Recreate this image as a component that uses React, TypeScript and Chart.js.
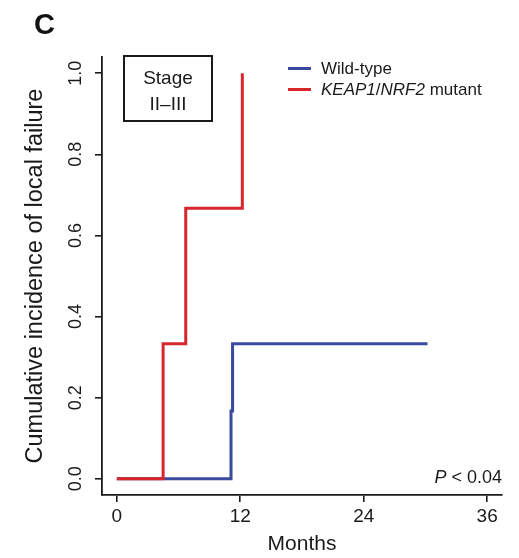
import React, { useEffect, useRef } from "react";
import { Chart, registerables } from "chart.js";

Chart.register(...registerables);

// ---- data ----
const seriesLabels = ["Wild-type", "KEAP1/NRF2 mutant"];
const wildTypeMonths = [0, 11.1, 11.25, 30.2];
const wildTypeIncidence = [0, 0.167, 0.333, 0.333];
const mutantMonths = [0, 4.5, 6.7, 12.2];
const mutantIncidence = [0, 0.333, 0.667, 1.0];
const xTickValues = [0, 12, 24, 36];
const yTickValues = [0, 0.2, 0.4, 0.6, 0.8, 1.0];
const xTitle = "Months";
const yTitle = "Cumulative incidence of local failure";
const stageLabel = ["Stage", "II–III"];
const pValueText = "< 0.04";

const FONT = "'Liberation Sans', Arial, Helvetica, sans-serif";
const INK = "#1a1a1a";
const BLUE = "#3a4a9f";
const RED = "#d8262d";
const W = 519;
const H = 558;

function pts(xs: number[], ys: number[]) {
  return xs.map((x, i) => ({ x, y: ys[i] }));
}

export default function App() {
  const ref = useRef<HTMLCanvasElement | null>(null);

  useEffect(() => {
    const canvas = ref.current;
    if (!canvas) return;
    const chart = new Chart(canvas, {
      type: "line",
      data: {
        datasets: [
          {
            label: seriesLabels[1],
            data: pts(mutantMonths, mutantIncidence),
            borderColor: RED,
            borderWidth: 3,
            stepped: "before",
            pointRadius: 0,
            fill: false,
            order: 0,
          },
          {
            label: seriesLabels[0],
            data: pts(wildTypeMonths, wildTypeIncidence),
            borderColor: BLUE,
            borderWidth: 3,
            stepped: "before",
            pointRadius: 0,
            fill: false,
            order: 1,
          },
        ],
      },
      options: {
        animation: false,
        responsive: false,
        maintainAspectRatio: false,
        layout: { padding: { top: 57, right: 17, bottom: 0, left: 17 } },
        plugins: {
          legend: { display: false },
          tooltip: { enabled: false },
        },
        scales: {
          x: {
            type: "linear",
            min: -1.44,
            max: 37.44,
            afterBuildTicks: (s: any) => {
              s.ticks = xTickValues.map((v) => ({ value: v }));
            },
            afterFit: (s: any) => {
              s.height = 63;
            },
            grid: {
              drawOnChartArea: false,
              drawTicks: true,
              tickLength: 7,
              color: INK,
              lineWidth: 1.6,
            },
            border: { display: true, color: INK, width: 1.8 },
            ticks: {
              color: INK,
              font: { family: FONT, size: 19 },
              padding: 3,
              maxRotation: 0,
              autoSkip: false,
              callback: (v: any) => String(v),
            },
            title: {
              display: true,
              text: xTitle,
              color: INK,
              font: { family: FONT, size: 21 },
              padding: { top: 0, bottom: 1 },
            },
          },
          y: {
            type: "linear",
            min: -0.04,
            max: 1.04,
            afterBuildTicks: (s: any) => {
              s.ticks = yTickValues.map((v) => ({ value: v }));
            },
            afterFit: (s: any) => {
              s.width = 85;
            },
            grid: {
              drawOnChartArea: false,
              drawTicks: true,
              tickLength: 7,
              color: INK,
              lineWidth: 1.6,
            },
            border: { display: true, color: INK, width: 1.8 },
            ticks: {
              color: INK,
              font: { family: FONT, size: 18 },
              padding: 6,
              minRotation: 90,
              maxRotation: 90,
              crossAlign: "center",
              autoSkip: false,
              callback: (v: any) => Number(v).toFixed(1),
            },
            title: {
              display: true,
              text: yTitle,
              color: INK,
              font: { family: FONT, size: 23.5 },
              padding: { top: 4, bottom: 0 },
            },
          },
        },
      },
    } as any);
    return () => chart.destroy();
  }, []);

  const abs = (s: React.CSSProperties): React.CSSProperties => ({
    position: "absolute",
    margin: 0,
    whiteSpace: "nowrap",
    fontFamily: FONT,
    color: INK,
    ...s,
  });

  return (
    <div style={{ position: "absolute", left: 0, top: 0, width: W, height: H, background: "#fff" }}>
      <canvas ref={ref} width={W} height={H} style={{ position: "absolute", left: 0, top: 0, width: W, height: H }} />
      {/* panel letter */}
      <div style={abs({ left: 34, top: 9.5, fontSize: 29, lineHeight: "29px", fontWeight: "bold", color: "#111" })}>C</div>
      {/* stage box */}
      <div
        style={abs({
          left: 123,
          top: 55,
          width: 90,
          height: 67,
          border: `2px solid ${INK}`,
          boxSizing: "border-box",
        })}
      />
      <div style={abs({ left: 123, width: 90, top: 68, fontSize: 19, lineHeight: "19px", textAlign: "center" })}>{stageLabel[0]}</div>
      <div style={abs({ left: 123, width: 90, top: 94, fontSize: 19, lineHeight: "19px", textAlign: "center" })}>{stageLabel[1]}</div>
      {/* legend */}
      <div style={abs({ left: 288, top: 66.5, width: 23, height: 3, background: BLUE })} />
      <div style={abs({ left: 288, top: 87.5, width: 23, height: 3, background: RED })} />
      <div style={abs({ left: 321, top: 59.6, fontSize: 17, lineHeight: "17px" })}>{seriesLabels[0]}</div>
      <div style={abs({ left: 321, top: 80.6, fontSize: 17, lineHeight: "17px" })}>
        <i>KEAP1</i>/<i>NRF2</i> mutant
      </div>
      {/* p value */}
      <div style={abs({ right: 17, top: 467.8, fontSize: 18, lineHeight: "18px", textAlign: "right" })}>
        <i>P</i> {pValueText}
      </div>
    </div>
  );
}
